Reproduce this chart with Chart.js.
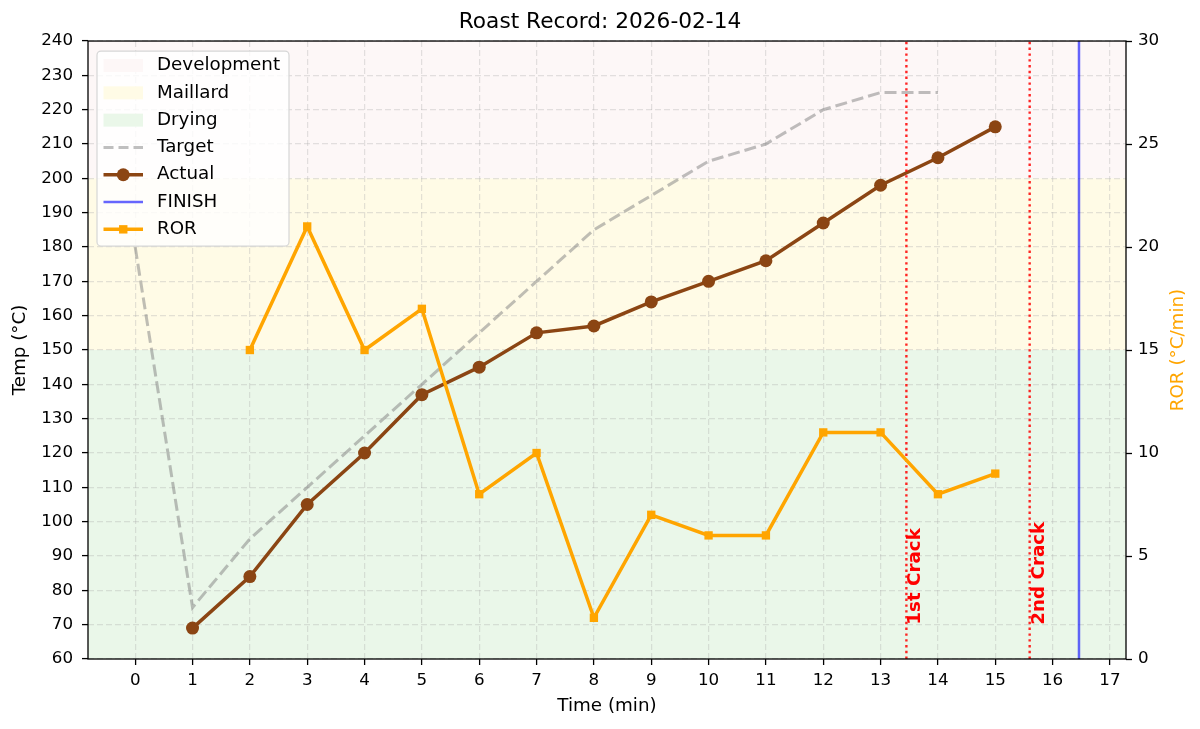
<!DOCTYPE html>
<html>
<head>
<meta charset="utf-8">
<title>Roast Record</title>
<script src="https://cdn.jsdelivr.net/npm/chart.js@4.4.1/dist/chart.umd.min.js"></script>
<style>
  html, body { margin: 0; padding: 0; background: #fff; }
  #wrap { width: 1200px; height: 729px; position: relative; }
</style>
</head>
<body>
<div id="wrap"><canvas id="roast-plot"></canvas></div>
<script>
// Roast data
const targetTime = [0, 1, 2, 3, 4, 5, 6, 7, 8, 9, 10, 11, 12, 13, 14];
const targetTemp = [180, 75, 95, 110, 125, 140, 155, 170, 185, 195, 205, 210, 220, 225, 225];

const actualTime = [1, 2, 3, 4, 5, 6, 7, 8, 9, 10, 11, 12, 13, 14, 15];
const actualTemp = [69, 84, 105, 120, 137, 145, 155, 157, 164, 170, 176, 187, 198, 206, 215];

const rorTime = [2, 3, 4, 5, 6, 7, 8, 9, 10, 11, 12, 13, 14, 15];
const rorValue = [15, 21, 15, 17, 8, 10, 2, 7, 6, 6, 11, 11, 8, 9];

// events (min)
const firstCrack = 13.45;
const secondCrack = 15.6;
const finishTime = 16.46;

// roast phases (temp bands)
const phaseNames = ['Development', 'Maillard', 'Drying'];
const phaseFrom = [200, 150, 60];
const phaseTo = [240, 200, 150];
const phaseColors = ['#fdf7f7', '#fffbe6', '#eaf7e9'];

// ticks
const timeTicks = [0, 1, 2, 3, 4, 5, 6, 7, 8, 9, 10, 11, 12, 13, 14, 15, 16, 17];
const tempTicks = [60, 70, 80, 90, 100, 110, 120, 130, 140, 150, 160, 170, 180, 190, 200, 210, 220, 230, 240];
const rorTicks = [0, 5, 10, 15, 20, 25, 30];

const actualColor = '#8B4513';
const rorColor = '#FFA500';
const targetColor = 'rgba(128,128,128,0.5)';
const finishColor = 'rgba(0,0,255,0.6)';
const crackColor = 'rgba(255,0,0,0.85)';

const FONT = "'DejaVu Sans', sans-serif";
Chart.defaults.font.family = FONT;
Chart.defaults.color = '#000';

const pts = (xs, ys) => xs.map((x, i) => ({ x: x, y: ys[i] }));
const vline = (x) => [{ x: x, y: tempTicks[0] }, { x: x, y: tempTicks[tempTicks.length - 1] }];
const setTicks = (list) => (s) => { s.ticks = list.map(v => ({ value: v })); };

// bands behind the grid
const phaseBands = {
  id: 'phaseBands',
  beforeDraw(chart) {
    const { ctx, chartArea: a, scales: { y } } = chart;
    ctx.save();
    phaseNames.forEach((n, i) => {
      const top = y.getPixelForValue(phaseTo[i]);
      const bot = y.getPixelForValue(phaseFrom[i]);
      ctx.fillStyle = phaseColors[i];
      ctx.fillRect(a.left, top, a.right - a.left, bot - top);
    });
    ctx.restore();
  }
};

// frame, crack labels and the right axis title (reads bottom-to-top like matplotlib)
const frameAndText = {
  id: 'frameAndText',
  afterDatasetsDraw(chart) {
    const { ctx, chartArea: a, scales: { x, y } } = chart;
    ctx.save();
    ctx.fillStyle = '#ff0000';
    ctx.font = 'bold 18.3px ' + FONT;
    ctx.textAlign = 'left';
    ctx.textBaseline = 'alphabetic';
    [[firstCrack, '1st Crack'], [secondCrack, '2nd Crack']].forEach(([t, label]) => {
      ctx.save();
      ctx.translate(x.getPixelForValue(t) + 14, y.getPixelForValue(70));
      ctx.rotate(-Math.PI / 2);
      ctx.fillText(label, 0, 0);
      ctx.restore();
    });
    ctx.strokeStyle = '#000';
    ctx.lineWidth = 1.3;
    ctx.strokeRect(a.left, a.top, a.right - a.left, a.bottom - a.top);

    ctx.save();
    ctx.fillStyle = rorColor;
    ctx.font = '18.3px ' + FONT;
    ctx.textAlign = 'center';
    ctx.textBaseline = 'middle';
    ctx.translate(1178, (a.top + a.bottom) / 2);
    ctx.rotate(-Math.PI / 2);
    ctx.fillText('ROR (°C/min)', 0, 0);
    ctx.restore();
    ctx.restore();
  }
};

// matplotlib-style legend in the top-left corner
const legendItems = [
  { label: 'Development', kind: 'patch', color: phaseColors[0] },
  { label: 'Maillard', kind: 'patch', color: phaseColors[1] },
  { label: 'Drying', kind: 'patch', color: phaseColors[2] },
  { label: 'Target', kind: 'line', color: targetColor, width: 3, dash: [10, 5] },
  { label: 'Actual', kind: 'line', color: actualColor, width: 3.5, marker: 'circle' },
  { label: 'FINISH', kind: 'line', color: finishColor, width: 2.5 },
  { label: 'ROR', kind: 'line', color: rorColor, width: 3.5, marker: 'rect' }
];

const cornerLegend = {
  id: 'cornerLegend',
  afterDraw(chart) {
    const { ctx, chartArea: a } = chart;
    const bx = a.left + 9, by = a.top + 10, bw = 192, bh = 195;
    ctx.save();
    ctx.beginPath();
    ctx.roundRect(bx, by, bw, bh, 4);
    ctx.fillStyle = 'rgba(255,255,255,0.8)';
    ctx.fill();
    ctx.strokeStyle = '#d6d6d6';
    ctx.lineWidth = 1.2;
    ctx.stroke();
    ctx.font = '18.3px ' + FONT;
    ctx.textBaseline = 'middle';
    ctx.textAlign = 'left';
    legendItems.forEach((it, i) => {
      const cy = by + 14.5 + i * 27.3;
      const x0 = bx + 6.5, x1 = bx + 46;
      if (it.kind === 'patch') {
        ctx.fillStyle = it.color;
        ctx.fillRect(x0, cy - 6.5, x1 - x0, 13);
      } else {
        ctx.beginPath();
        ctx.setLineDash(it.dash || []);
        ctx.strokeStyle = it.color;
        ctx.lineWidth = it.width;
        ctx.moveTo(x0, cy);
        ctx.lineTo(x1, cy);
        ctx.stroke();
        ctx.setLineDash([]);
        ctx.fillStyle = it.color;
        const mx = (x0 + x1) / 2;
        if (it.marker === 'circle') {
          ctx.beginPath();
          ctx.arc(mx, cy, 6.5, 0, Math.PI * 2);
          ctx.fill();
        } else if (it.marker === 'rect') {
          ctx.fillRect(mx - 4.2, cy - 4.2, 8.4, 8.4);
        }
      }
      ctx.fillStyle = '#000';
      ctx.fillText(it.label, bx + 60, cy);
    });
    ctx.restore();
  }
};

new Chart('roast-plot', {
  type: 'line',
  data: {
    datasets: [
      {
        label: 'ROR',
        data: pts(rorTime, rorValue),
        yAxisID: 'y1',
        borderColor: rorColor,
        backgroundColor: rorColor,
        borderWidth: 3.5,
        pointStyle: 'rect',
        pointRadius: 5.9,
        pointBorderWidth: 0,
        order: 0
      },
      {
        label: 'FINISH',
        data: vline(finishTime),
        yAxisID: 'y',
        borderColor: finishColor,
        borderWidth: 2.5,
        pointRadius: 0,
        order: 1
      },
      {
        label: '2nd Crack',
        data: vline(secondCrack),
        yAxisID: 'y',
        borderColor: crackColor,
        borderWidth: 2.4,
        borderDash: [2.4, 3.4],
        pointRadius: 0,
        order: 2
      },
      {
        label: '1st Crack',
        data: vline(firstCrack),
        yAxisID: 'y',
        borderColor: crackColor,
        borderWidth: 2.4,
        borderDash: [2.4, 3.4],
        pointRadius: 0,
        order: 3
      },
      {
        label: 'Actual',
        data: pts(actualTime, actualTemp),
        yAxisID: 'y',
        borderColor: actualColor,
        backgroundColor: actualColor,
        borderWidth: 3.5,
        pointStyle: 'circle',
        pointRadius: 6.5,
        pointBorderWidth: 0,
        order: 4
      },
      {
        label: 'Target',
        data: pts(targetTime, targetTemp),
        yAxisID: 'y',
        borderColor: targetColor,
        borderWidth: 3,
        borderDash: [12, 5],
        pointRadius: 0,
        order: 5
      }
    ]
  },
  options: {
    responsive: true,
    maintainAspectRatio: false,
    animation: false,
    events: [],
    layout: { padding: 0 },
    plugins: {
      legend: { display: false },
      tooltip: { enabled: false },
      title: {
        display: true,
        text: 'Roast Record: 2026-02-14',
        color: '#000',
        font: { size: 21.7, weight: 'normal' },
        padding: { top: 9, bottom: 6 }
      }
    },
    scales: {
      x: {
        type: 'linear',
        min: -0.823,
        max: 17.28,
        afterBuildTicks: setTicks(timeTicks),
        afterFit: (s) => { s.height = 70; },
        ticks: { font: { size: 16.7 }, padding: 6, maxRotation: 0 },
        grid: {
          color: 'rgba(176,176,176,0.35)',
          lineWidth: 1.2,
          tickColor: '#000',
          tickLength: 6,
          tickWidth: 1.3
        },
        border: { display: false, dash: [6, 3] },
        title: {
          display: true,
          text: 'Time (min)',
          font: { size: 18.3 },
          padding: { top: 0, bottom: 12 }
        }
      },
      y: {
        position: 'left',
        min: 60,
        max: 240,
        afterBuildTicks: setTicks(tempTicks),
        afterFit: (s) => { s.width = 88; },
        ticks: { font: { size: 16.7 }, padding: 9 },
        grid: {
          color: 'rgba(176,176,176,0.35)',
          lineWidth: 1.2,
          tickColor: '#000',
          tickLength: 6,
          tickWidth: 1.3
        },
        border: { display: false, dash: [6, 3] },
        title: {
          display: true,
          text: 'Temp (°C)',
          font: { size: 18.3 },
          padding: { top: 9, bottom: 0 }
        }
      },
      y1: {
        position: 'right',
        min: 0,
        max: 30,
        afterBuildTicks: setTicks(rorTicks),
        afterFit: (s) => { s.width = 74; },
        ticks: { font: { size: 16.7 }, padding: 6 },
        grid: {
          drawOnChartArea: false,
          tickColor: '#000',
          tickLength: 6,
          tickWidth: 1.3
        },
        border: { display: false },
        title: { display: false }
      }
    }
  },
  plugins: [phaseBands, frameAndText, cornerLegend]
});
</script>
</body>
</html>
